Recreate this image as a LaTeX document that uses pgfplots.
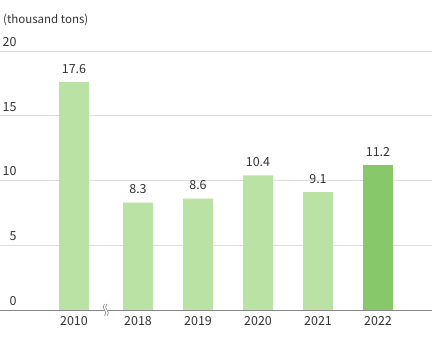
\documentclass[border=0pt]{standalone}
\usepackage{pgfplots}
\pgfplotsset{compat=1.18}
\usepackage{fontspec}
\setmainfont{Noto Sans CJK JP}
\definecolor{lightg}{HTML}{BAE2A5}
\definecolor{darkg}{HTML}{86C86A}
\definecolor{txt}{HTML}{333333}
\definecolor{gridc}{HTML}{DDDDDD}
\definecolor{basec}{HTML}{888888}
\begin{document}
\begin{tikzpicture}
\begin{axis}[
  scale only axis, width=432pt, height=259pt,
  xmin=0, xmax=432, ymin=0, ymax=20,
  axis x line*=bottom, axis y line*=left,
  x axis line style={draw=basec, line width=0.8pt, -},
  y axis line style={draw=none},
  ytick={0,5,10,15,20},
  ymajorgrids, grid style={gridc, line width=0.8pt},
  major tick length=0pt,
  xtick={74,138,198,258,318,378},
  xticklabels={2010,2018,2019,2020,2021,2022},
  xticklabel style={font=\fontsize{12.5}{14}\selectfont, text=txt, yshift=-3pt},
  yticklabel style={font=\fontsize{12.5}{14}\selectfont, text=txt, anchor=south east, xshift=20pt, yshift=1pt},
  /pgf/number format/assume math mode=true,
  clip=false,
  nodes near coords style={font=\fontsize{12.5}{14}\selectfont, text=txt, yshift=5pt},
]
\addplot[ybar, bar width=30pt, fill=lightg, draw=none,
  nodes near coords, point meta=y,
  nodes near coords style={/pgf/number format/.cd, fixed, fixed zerofill, precision=1}]
  coordinates {(74,17.6) (138,8.3) (198,8.6) (258,10.4) (318,9.1)};
\addplot[ybar, bar width=30pt, fill=darkg, draw=none,
  nodes near coords, point meta=y,
  nodes near coords style={/pgf/number format/.cd, fixed, fixed zerofill, precision=1}]
  coordinates {(378,11.2)};
% axis break mark
\fill[white] ([shift={(-1.5pt,6pt)}]axis cs:106,0) .. controls +(-5pt,-4pt) and +(5pt,4pt) .. ++(0pt,-12pt)
   -- ++(2.5pt,0pt) .. controls +(5pt,4pt) and +(-5pt,-4pt) .. ++(0pt,12pt) -- cycle;
\draw[basec, line width=0.6pt] ([shift={(-1.5pt,6pt)}]axis cs:106,0) .. controls +(-5pt,-4pt) and +(5pt,4pt) .. ++(0pt,-12pt);
\draw[basec, line width=0.6pt] ([shift={(1pt,6pt)}]axis cs:106,0) .. controls +(-5pt,-4pt) and +(5pt,4pt) .. ++(0pt,-12pt);
\node[anchor=west, inner sep=0pt, text=txt, font=\fontsize{11.5}{13}\selectfont] at ([xshift=3pt, yshift=31pt]axis cs:0,20) {(thousand tons)};
\coordinate (bl) at ([yshift=-32pt]axis cs:0,0);
\coordinate (tr) at ([yshift=51pt]axis cs:432,20);
\end{axis}
\pgfresetboundingbox
\path[use as bounding box] (bl) rectangle (tr);
\end{tikzpicture}
\end{document}
